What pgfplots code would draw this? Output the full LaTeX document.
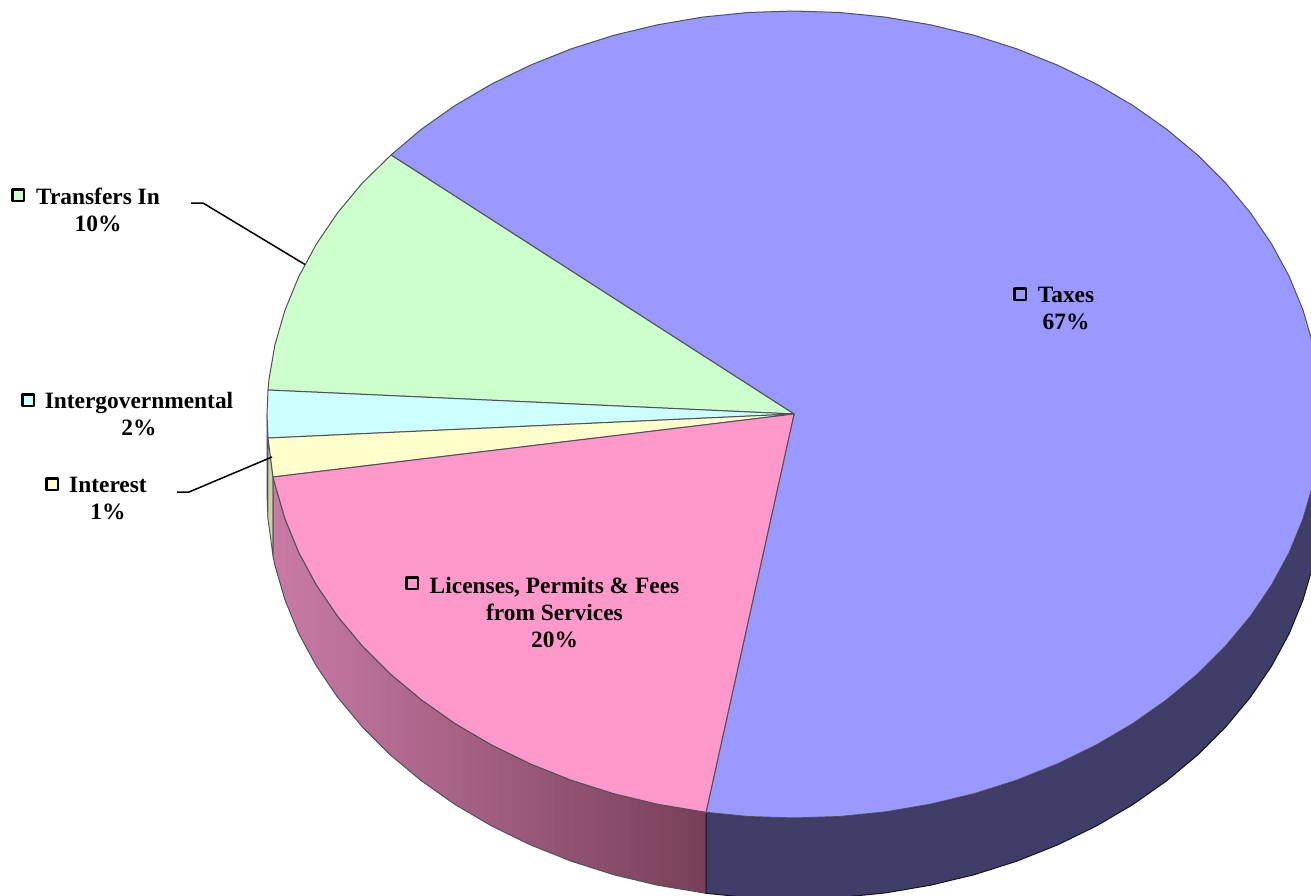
\documentclass[border=0pt]{standalone}
\usepackage{pgfplots}
\pgfplotsset{compat=1.18}
\usepackage{fontspec}
\setmainfont{Liberation Serif}
\definecolor{taxes}{HTML}{9999FF}
\definecolor{taxeswall}{HTML}{3E3E69}
\definecolor{licenses}{HTML}{FF99CC}
\definecolor{interest}{HTML}{FFFFCC}
\definecolor{interestwall}{HTML}{D2D2A0}
\definecolor{intergov}{HTML}{CCFFFF}
\definecolor{intergovwall}{HTML}{A0CCCC}
\definecolor{transfers}{HTML}{CCFFCC}
\definecolor{edge}{HTML}{50505A}
\definecolor{licleft}{HTML}{C97BA6}
\definecolor{licmid}{HTML}{A9648A}
\definecolor{licright}{HTML}{784058}
\newcommand{\slicelabel}[3]{\node[align=center,font=\fontsize{23.4}{27}\selectfont\bfseries,text=black,inner sep=0pt] at (axis cs:#1,#2) {#3};}
\begin{document}
\begin{tikzpicture}[line join=round]
\begin{axis}[
  at={(0,0)}, anchor=south west,
  scale only axis, width=1311pt, height=895pt,
  xmin=0, xmax=1311, ymin=0, ymax=895, y dir=reverse,
  hide axis, clip=true,
]
% side walls
\addplot[fill=intergovwall, draw=edge, line width=0.9pt] coordinates {
  (267,414.5) (268,438) (268,519) (267,495.5)} -- cycle;
\addplot[fill=interestwall, draw=edge, line width=0.9pt] coordinates {
  (268,438) (273,477) (273,556) (268,519)} -- cycle;
\addplot[left color=licleft, middle color=licmid, right color=licright, draw=edge, line width=1pt] coordinates {
  (273,477) (275,484.5) (285,518.9) (298.8,552.5) (316.4,585) (337.6,616.25)
  (362.3,645.9) (390.3,673.9) (421.4,699.8) (455.2,723.6) (491.7,745) (530.5,763.9)
  (571.3,780.2) (613.8,793.7) (657.6,804.2) (706,812.3)
  (706,893.3) (657.6,885.2) (613.8,874.7) (571.3,861.2) (530.5,844.9) (491.7,826)
  (455.2,804.6) (421.4,780.8) (390.3,754.9) (362.3,726.9) (337.6,697.25) (316.4,666)
  (298.8,633.5) (285,599.9) (275,565.5) (273,556)} -- cycle;
\addplot[fill=taxeswall, draw=black!70!taxeswall, line width=1pt] coordinates {
  (1321,414.5) (1319,449.7) (1313,484.5) (1303,518.9) (1289.2,552.5) (1271.6,585)
  (1250.4,616.25) (1225.7,645.9) (1197.7,673.9) (1166.6,699.8) (1132.8,723.6)
  (1096.3,745) (1057.5,763.9) (1016.7,780.2) (974.2,793.7) (930.4,804.2) (885.5,811.9)
  (840,816.5) (794,818) (748,816.5) (706,812.3)
  (706,893.3) (748,897.5) (794,899) (840,897.5) (885.5,892.9) (930.4,885.2) (974.2,874.7)
  (1016.7,861.2) (1057.5,844.9) (1096.3,826) (1132.8,804.6) (1166.6,780.8) (1197.7,754.9)
  (1225.7,726.9) (1250.4,697.25) (1271.6,666) (1289.2,633.5) (1303,599.9) (1313,565.5)
  (1319,530.7) (1321,495.5)} -- cycle;
% top faces
\addplot[fill=taxes, draw=edge, line width=1pt] coordinates {
  (794,414) (391,155) (421.4,129.2) (455.2,105.4) (491.7,84) (530.5,65.1) (571.3,48.8)
  (613.8,35.3) (657.6,24.8) (702.5,17.1) (748,12.5) (794,11) (840,12.5) (885.5,17.1)
  (930.4,24.8) (974.2,35.3) (1016.7,48.8) (1057.5,65.1) (1096.3,84) (1132.8,105.4)
  (1166.6,129.2) (1197.7,155.1) (1225.7,183.1) (1250.4,212.75) (1271.6,244) (1289.2,276.5)
  (1303,310.1) (1313,344.5) (1319,379.3) (1321,414.5) (1319,449.7) (1313,484.5)
  (1303,518.9) (1289.2,552.5) (1271.6,585) (1250.4,616.25) (1225.7,645.9) (1197.7,673.9)
  (1166.6,699.8) (1132.8,723.6) (1096.3,745) (1057.5,763.9) (1016.7,780.2) (974.2,793.7)
  (930.4,804.2) (885.5,811.9) (840,816.5) (794,818) (748,816.5) (706,812.3)} -- cycle;
\addplot[fill=transfers, draw=edge, line width=1pt] coordinates {
  (794,414) (391,155) (362.3,183.1) (337.6,212.75) (316.4,244) (298.8,276.5) (285,310.1)
  (275,344.5) (269,379.3) (268,390)} -- cycle;
\addplot[fill=intergov, draw=edge, line width=1pt] coordinates {
  (794,414) (268,390) (267,414.5) (268,438)} -- cycle;
\addplot[fill=interest, draw=edge, line width=1pt] coordinates {
  (794,414) (268,438) (269.5,449.7) (273,477)} -- cycle;
\addplot[fill=licenses, draw=edge, line width=1pt] coordinates {
  (794,414) (273,477) (275,484.5) (285,518.9) (298.8,552.5) (316.4,585) (337.6,616.25)
  (362.3,645.9) (390.3,673.9) (421.4,699.8) (455.2,723.6) (491.7,745) (530.5,763.9)
  (571.3,780.2) (613.8,793.7) (657.6,804.2) (706,812.3)} -- cycle;
% leader lines
\addplot[black, line width=1.5pt] coordinates {(191,203) (203,203) (305,264.5)};
\addplot[black, line width=1.5pt] coordinates {(177,492) (189,492) (272,457)};
% legend keys
\addplot[only marks, mark=square*, mark size=5.8pt, mark options={fill=transfers, draw=black, line width=2.6pt}] coordinates {(18,195)};
\addplot[only marks, mark=square*, mark size=5.8pt, mark options={fill=intergov, draw=black, line width=2.6pt}] coordinates {(28,400)};
\addplot[only marks, mark=square*, mark size=5.8pt, mark options={fill=interest, draw=black, line width=2.6pt}] coordinates {(52,484)};
\addplot[only marks, mark=square*, mark size=5.8pt, mark options={fill=taxes, draw=black, line width=2.6pt}] coordinates {(1020,294)};
\addplot[only marks, mark=square*, mark size=5.8pt, mark options={fill=licenses, draw=black, line width=2.6pt}] coordinates {(412,583)};
% labels
\slicelabel{98}{210}{Transfers In\\10\%}
\slicelabel{139}{414}{Intergovernmental\\2\%}
\slicelabel{108}{498}{Interest\\1\%}
\slicelabel{1066}{308}{Taxes\\67\%}
\slicelabel{554.5}{613}{Licenses, Permits \& Fees\\from Services\\20\%}
\end{axis}
\path (0,0) rectangle (1311pt,895pt);
\end{tikzpicture}
\end{document}
